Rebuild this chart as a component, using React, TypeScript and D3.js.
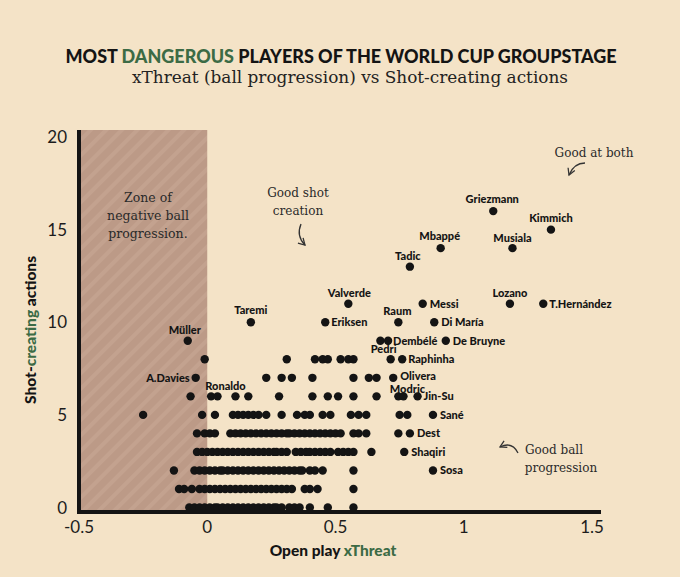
import React from "react";
import * as d3 from "d3";

// ---- Data (open-play xThreat, shot-creating actions) ----
// Unlabelled players, grouped by shot-creating actions value
const sca0 = [-0.07, -0.05, -0.03, -0.01, 0.01, 0.03, 0.04, 0.06, 0.08, 0.1, 0.12, 0.14, 0.16, 0.18, 0.2, 0.22, 0.24, 0.26, 0.27, 0.29, 0.32, 0.34, 0.36, 0.4, 0.47, 0.57];
const sca1 = [-0.11, -0.09, -0.06, -0.03, -0.01, 0.01, 0.03, 0.05, 0.07, 0.09, 0.11, 0.13, 0.15, 0.17, 0.19, 0.21, 0.23, 0.25, 0.27, 0.29, 0.31, 0.33, 0.38, 0.4, 0.43, 0.57];
const sca2 = [-0.13, -0.05, -0.03, -0.01, 0.01, 0.03, 0.05, 0.06, 0.08, 0.1, 0.12, 0.14, 0.16, 0.18, 0.2, 0.22, 0.24, 0.26, 0.28, 0.3, 0.32, 0.34, 0.36, 0.37, 0.4, 0.42, 0.45, 0.57];
const sca3 = [-0.04, -0.02, 0.0, 0.02, 0.04, 0.06, 0.08, 0.1, 0.12, 0.14, 0.16, 0.18, 0.2, 0.22, 0.24, 0.26, 0.27, 0.29, 0.31, 0.345, 0.365, 0.385, 0.4, 0.42, 0.44, 0.46, 0.48, 0.51, 0.53, 0.55, 0.57, 0.64];
const sca4 = [-0.04, -0.01, 0.01, 0.03, 0.09, 0.11, 0.13, 0.15, 0.17, 0.19, 0.21, 0.23, 0.25, 0.27, 0.29, 0.31, 0.32, 0.34, 0.36, 0.38, 0.4, 0.42, 0.44, 0.46, 0.48, 0.5, 0.52, 0.57, 0.59, 0.62, 0.745];
const sca5 = [-0.25, -0.02, 0.03, 0.1, 0.12, 0.14, 0.16, 0.18, 0.2, 0.23, 0.29, 0.35, 0.38, 0.4, 0.45, 0.48, 0.56, 0.59, 0.62, 0.75, 0.78];
const sca6 = [-0.065, 0.015, 0.11, 0.16, 0.28, 0.41, 0.47, 0.51, 0.57, 0.66, 0.745];
const sca7 = [0.23, 0.29, 0.33, 0.41, 0.57, 0.63, 0.66];
const sca8 = [-0.01, 0.31, 0.42, 0.45, 0.47, 0.52, 0.55, 0.57];
const sca9 = [0.675];
const unlabelledRows = [sca0, sca1, sca2, sca3, sca4, sca5, sca6, sca7, sca8, sca9];

// Labelled players
const playerNames = ["Griezmann", "Kimmich", "Mbappé", "Musiala", "Tadic", "Lozano", "T.Hernández", "Messi", "Valverde", "Raum", "Eriksen", "Di María", "Taremi", "Müller", "Dembélé", "De Bruyne", "Pedri", "Raphinha", "Olivera", "Modric", "Jin-Su", "A.Davies", "Ronaldo", "Sané", "Dest", "Shaqiri", "Sosa"];
const playerXT = [1.115, 1.34, 0.91, 1.19, 0.79, 1.18, 1.31, 0.84, 0.55, 0.745, 0.46, 0.885, 0.17, -0.076, 0.705, 0.93, 0.715, 0.76, 0.725, 0.765, 0.82, -0.045, 0.04, 0.88, 0.79, 0.768, 0.88];
const playerSCA = [16, 15, 14, 14, 13, 11, 11, 11, 11, 10, 10, 10, 10, 9, 9, 9, 8, 8, 7, 6, 6, 7, 6, 5, 4, 3, 2];

const xTicks = [-0.5, 0, 0.5, 1, 1.5];
const yTicks = [0, 5, 10, 15, 20];

// label placement (style only): anchor, dx, dy
const labelPlace: Record<string, [string, number, number]> = {
  "Griezmann": ["middle", -1, -8],
  "Kimmich": ["middle", 0, -8],
  "Mbappé": ["middle", -1, -8],
  "Musiala": ["middle", 0, -6],
  "Tadic": ["middle", -2, -7],
  "Lozano": ["middle", 0, -7],
  "T.Hernández": ["start", 6, 4],
  "Messi": ["start", 7, 4],
  "Valverde": ["middle", 1, -7],
  "Raum": ["middle", -1, -7],
  "Eriksen": ["start", 6, 4],
  "Di María": ["start", 7, 4],
  "Taremi": ["middle", 0, -8],
  "Müller": ["middle", -3, -7],
  "Dembélé": ["start", 5, 4],
  "De Bruyne": ["start", 7, 4],
  "Pedri": ["middle", -7, -6],
  "Raphinha": ["start", 6, 4],
  "Olivera": ["start", 7, 2],
  "Modric": ["middle", 4, -3.5],
  "Jin-Su": ["start", 6, 4],
  "A.Davies": ["end", -6, 4],
  "Ronaldo": ["middle", 8, -6],
  "Sané": ["start", 7, 4],
  "Dest": ["start", 7, 4],
  "Shaqiri": ["start", 7, 4],
  "Sosa": ["start", 7, 4],
};

const BG = "#f4e3c7";
const GREEN = "#3c6b45";
const INK = "#141414";

export default function App() {
  const W = 680, H = 577;
  const x = d3.scaleLinear().domain([-0.5, 1.5]).range([79, 592]);
  const y = d3.scaleLinear().domain([0, 20]).range([507.5, 137]);
  const r = 4.2;
  const labelFont = "Lato, 'Open Sans', sans-serif";
  const serif = "'DejaVu Serif', 'Liberation Serif', serif";

  return (
    <svg width={W} height={H} style={{ position: "absolute", left: 0, top: 0, background: BG }}>
      <defs>
        <pattern id="stripes" patternUnits="userSpaceOnUse" width="11" height="11" patternTransform="rotate(45)">
          <rect width="11" height="11" fill="#bc9a87" />
          <rect width="4" height="11" fill="#c3a28f" />
        </pattern>
        <marker id="ah" viewBox="0 0 10 10" refX="8" refY="5" markerWidth="7" markerHeight="7" orient="auto">
          <path d="M1,1 L8,5 L1,9" fill="none" stroke="#333" strokeWidth="1.4" />
        </marker>
      </defs>
      <rect width={W} height={H} fill={BG} />

      {/* Title */}
      <text x={341} y={63} textAnchor="middle" fontFamily={labelFont} fontWeight={900} fontSize={18.5} fill={INK} textLength={551} lengthAdjust="spacingAndGlyphs">
        MOST <tspan fill={GREEN}>DANGEROUS</tspan> PLAYERS OF THE WORLD CUP GROUPSTAGE
      </text>
      <text x={350} y={83} textAnchor="middle" fontFamily={serif} fontSize={16} fill="#222" textLength={436} lengthAdjust="spacingAndGlyphs">
        xThreat (ball progression) vs Shot-creating actions
      </text>

      {/* Negative zone */}
      <rect x={x(-0.5)} y={130} width={x(0) - x(-0.5)} height={511 - 130} fill="url(#stripes)" />
      <g fontFamily={serif} fontSize={12.5} fill="#2a2a2a" textAnchor="middle">
        <text x={148} y={202}>Zone of</text>
        <text x={148} y={220}>negative ball</text>
        <text x={148} y={238}>progression.</text>
      </g>

      {/* Dots */}
      <g fill={INK}>
        {unlabelledRows.map((row, i) =>
          row.map((v, j) => <circle key={`u${i}-${j}`} cx={x(v)} cy={y(i)} r={r} />)
        )}
        {playerNames.map((n, i) => (
          <circle key={`p${i}`} cx={x(playerXT[i])} cy={y(playerSCA[i])} r={r} />
        ))}
      </g>

      {/* Player labels */}
      <g fontFamily={labelFont} fontWeight={900} fontSize={11} fill={INK}>
        {playerNames.map((n, i) => {
          const p = labelPlace[n];
          return (
            <text key={`l${i}`} x={x(playerXT[i]) + p[1]} y={y(playerSCA[i]) + p[2]} textAnchor={p[0]}>
              {n}
            </text>
          );
        })}
      </g>

      {/* Axes */}
      <line x1={79} x2={79} y1={130} y2={514} stroke={INK} strokeWidth={4} />
      <line x1={77} x2={601} y1={512} y2={512} stroke={INK} strokeWidth={4} />
      <g fontFamily={labelFont} fontWeight={400} fontSize={17} fill="#1c1c1c">
        {yTicks.map((t) => (
          <text key={`yt${t}`} x={67} y={y(t) + 6} textAnchor="end">{t}</text>
        ))}
        {xTicks.map((t) => (
          <text key={`xt${t}`} x={x(t)} y={533} textAnchor="middle">{t}</text>
        ))}
      </g>

      {/* Axis titles */}
      <text x={333} y={556} textAnchor="middle" fontFamily={labelFont} fontWeight={900} fontSize={15.5} fill={INK}>
        Open play <tspan fill={GREEN}>xThreat</tspan>
      </text>
      <text transform="translate(36,330) rotate(-90)" textAnchor="middle" fontFamily={labelFont} fontWeight={900} fontSize={15.5} fill={INK}>
        Shot-<tspan fill={GREEN}>creating</tspan> actions
      </text>

      {/* Annotations */}
      <g fontFamily={serif} fontSize={12} fill="#2a2a2a">
        <text x={298} y={197} textAnchor="middle">Good shot</text>
        <text x={298} y={215} textAnchor="middle">creation</text>
        <text x={594} y={157} textAnchor="middle">Good at both</text>
        <text x={525} y={454}>Good ball</text>
        <text x={561} y={472} textAnchor="middle">progression</text>
      </g>
      <g fill="none" stroke="#333" strokeWidth={1.3}>
        <path d="M301,224 Q296,236 305,245" markerEnd="url(#ah)" />
        <path d="M585,163 Q574,163 569,175" markerEnd="url(#ah)" />
        <path d="M518,453 Q512,441 500,447" markerEnd="url(#ah)" />
      </g>
    </svg>
  );
}
